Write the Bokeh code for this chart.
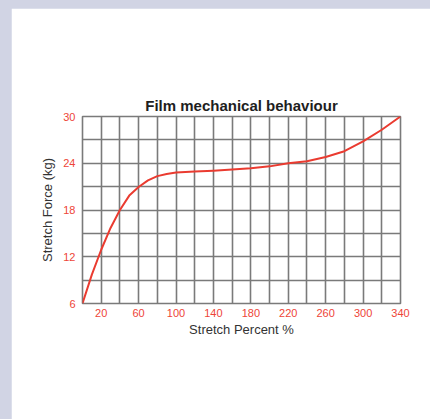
from bokeh.plotting import figure
from bokeh.embed import file_html
from bokeh.resources import INLINE
from bokeh.models import FixedTicker, Range1d
from bokeh.core.templates import FILE
from jinja2 import Template

# Data
stretch_pct = [0, 10, 20, 30, 40, 50, 60, 70, 80, 90, 100, 110, 120, 140, 160,
               180, 200, 220, 240, 260, 280, 300, 320, 340]
stretch_force = [6.0, 9.7, 12.9, 15.7, 18.0, 19.85, 20.95, 21.8, 22.35, 22.63,
                 22.8, 22.88, 22.93, 23.05, 23.2, 23.36, 23.6, 24.0, 24.25, 24.8,
                 25.55, 26.8, 28.3, 30.0]
x_tick_labels = [20, 60, 100, 140, 180, 220, 260, 300, 340]
x_grid_ticks = list(range(0, 341, 20))
y_tick_labels = [6, 12, 18, 24, 30]
y_grid_ticks = list(range(6, 31, 3))

RED = "#ea3b30"
LABEL_RED = "#ee4438"
GRID = "#7a7a7a"

p = figure(width=419, height=411, output_backend="svg", toolbar_location=None,
           x_range=Range1d(0, 340), y_range=Range1d(6, 30),
           title="Film mechanical behaviour")
p.margin = (8, 0, 0, 11)
p.min_border_left = 71
p.min_border_right = 30
p.min_border_top = 108
p.min_border_bottom = 116
p.background_fill_color = "white"
p.border_fill_color = "white"
p.outline_line_color = GRID
p.outline_line_width = 1.6

p.title.align = "center"
p.title.text_font = "Liberation Sans"
p.title.text_font_style = "bold"
p.title.text_font_size = "15px"
p.title.text_color = "#1e1e1e"
p.title.standoff = 5

p.xaxis.ticker = FixedTicker(ticks=x_tick_labels)
p.yaxis.ticker = FixedTicker(ticks=y_tick_labels)
p.xgrid.ticker = FixedTicker(ticks=x_grid_ticks)
p.ygrid.ticker = FixedTicker(ticks=y_grid_ticks)
for g in (p.xgrid, p.ygrid):
    g.grid_line_color = GRID
    g.grid_line_width = 1.6

for ax in (p.xaxis, p.yaxis):
    ax.axis_line_color = None
    ax.major_tick_line_color = None
    ax.minor_tick_line_color = None
    ax.major_tick_out = 0
    ax.major_tick_in = 0
    ax.minor_tick_out = 0
    ax.major_label_text_color = LABEL_RED
    ax.major_label_text_font = "Liberation Sans"
    ax.major_label_text_font_size = "11px"
    ax.axis_label_text_font = "Liberation Sans"
    ax.axis_label_text_font_size = "13px"
    ax.axis_label_text_font_style = "normal"
    ax.axis_label_text_color = "#333333"

p.xaxis.axis_label = "Stretch Percent %"
p.yaxis.axis_label = "Stretch Force (kg)"
p.xaxis.major_label_standoff = 5
p.yaxis.major_label_standoff = 7
p.xaxis.axis_label_standoff = 2
p.yaxis.axis_label_standoff = 5

p.line(stretch_pct, stretch_force, line_color=RED, line_width=2,
       line_join="round")

tmpl = Template(
    "{% extends base %}{% block preamble %}"
    "<style>html, body { background: #d1d4e4; margin: 0; padding: 0; }</style>"
    "{% endblock %}"
)
html = file_html(p, INLINE, template=tmpl, template_variables={"base": FILE})
open("out.html", "w").write(html)
